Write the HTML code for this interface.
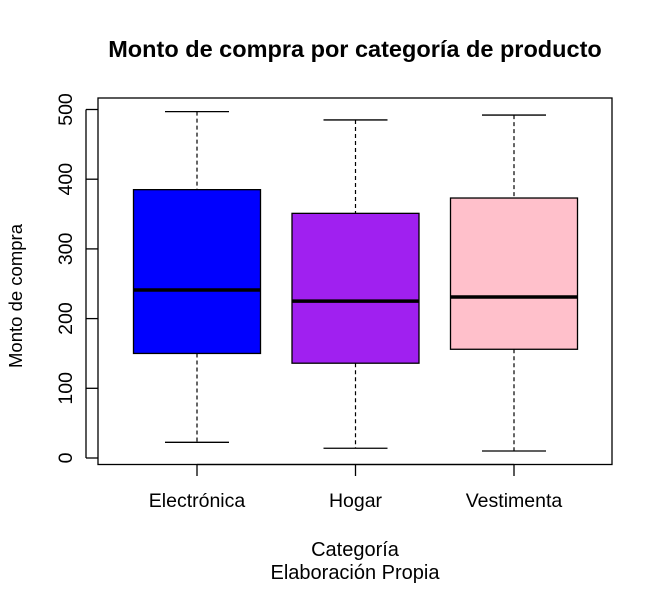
<!DOCTYPE html>
<html><head><meta charset="utf-8"><style>
body{margin:0;background:#fff}
svg text{font-family:"Liberation Sans",Arial,sans-serif;fill:#000}
</style></head><body>
<svg width="663" height="587" viewBox="0 0 663 587" id="chart">
<text x="355" y="57" font-size="23.5" font-weight="bold" text-anchor="middle">Monto de compra por categoría de producto</text>
<rect x="98" y="98" width="514" height="366.5" fill="none" stroke="#000" stroke-width="1.3"/>
<g id="yaxis"></g>
<g id="xaxis"></g>
<g id="boxes"></g>
<text x="355" y="556" font-size="20" text-anchor="middle">Categoría</text>
<text x="355" y="579" font-size="20" text-anchor="middle">Elaboración Propia</text>
<text transform="translate(22,296) rotate(-90)" font-size="18.5" text-anchor="middle">Monto de compra</text>
</svg>
<script>
const categories=["Electrónica","Hogar","Vestimenta"];
const whiskerLow=[22.5,14,10];
const q1=[150,136,156];
const medians=[241,225,231];
const q3=[385,351,373];
const whiskerHigh=[497,485,492];
const colors=["#0000FF","#A020F0","#FFC0CB"];
const yTicks=[0,100,200,300,400,500];
const NS="http://www.w3.org/2000/svg";
const y=v=>458-v*0.697;
const x=i=>197+i*158.5;
function mk(tag,attrs,parent){const e=document.createElementNS(NS,tag);for(const k in attrs)e.setAttribute(k,attrs[k]);parent.appendChild(e);return e;}
const ya=document.getElementById('yaxis'),xa=document.getElementById('xaxis'),bx=document.getElementById('boxes');
mk('line',{x1:86,x2:86,y1:y(0),y2:y(500),stroke:'#000','stroke-width':1.3},ya);
yTicks.forEach(t=>{
 const l=mk('line',{x1:86,x2:98,y1:y(t),y2:y(t),stroke:'#000','stroke-width':1.3},ya);
 
 
 const tx=mk('text',{'font-size':19.5,'text-anchor':'middle',transform:`translate(72,${y(t)}) rotate(-90)`},ya);
 tx.textContent=t;
 
 
});
mk('line',{x1:x(0),x2:x(2),y1:464.5,y2:464.5,stroke:'#000','stroke-width':1.3},xa);
categories.forEach((c,i)=>{
 const l=mk('line',{x1:x(i),x2:x(i),y1:464.5,y2:476,stroke:'#000','stroke-width':1.3},xa);
 
 
 const tx=mk('text',{x:x(i),y:507,'font-size':19.5,'text-anchor':'middle'},xa);
 tx.textContent=c;
 
 
 const g=mk('g',{},bx);
 
 
 const cx=x(i);
 mk('line',{x1:cx,x2:cx,y1:y(whiskerHigh[i]),y2:y(q3[i]),stroke:'#000','stroke-width':1.2,'stroke-dasharray':'4,3'},g);
 mk('line',{x1:cx,x2:cx,y1:y(q1[i]),y2:y(whiskerLow[i]),stroke:'#000','stroke-width':1.2,'stroke-dasharray':'4,3'},g);
 mk('line',{x1:cx-32,x2:cx+32,y1:y(whiskerHigh[i]),y2:y(whiskerHigh[i]),stroke:'#000','stroke-width':1.3},g);
 mk('line',{x1:cx-32,x2:cx+32,y1:y(whiskerLow[i]),y2:y(whiskerLow[i]),stroke:'#000','stroke-width':1.3},g);
 mk('rect',{x:cx-63.5,width:127,y:y(q3[i]),height:y(q1[i])-y(q3[i]),fill:colors[i],stroke:'#000','stroke-width':1.3},g);
 mk('line',{x1:cx-63.5,x2:cx+63.5,y1:y(medians[i]),y2:y(medians[i]),stroke:'#000','stroke-width':3.5},g);
});
</script>
</body></html>
